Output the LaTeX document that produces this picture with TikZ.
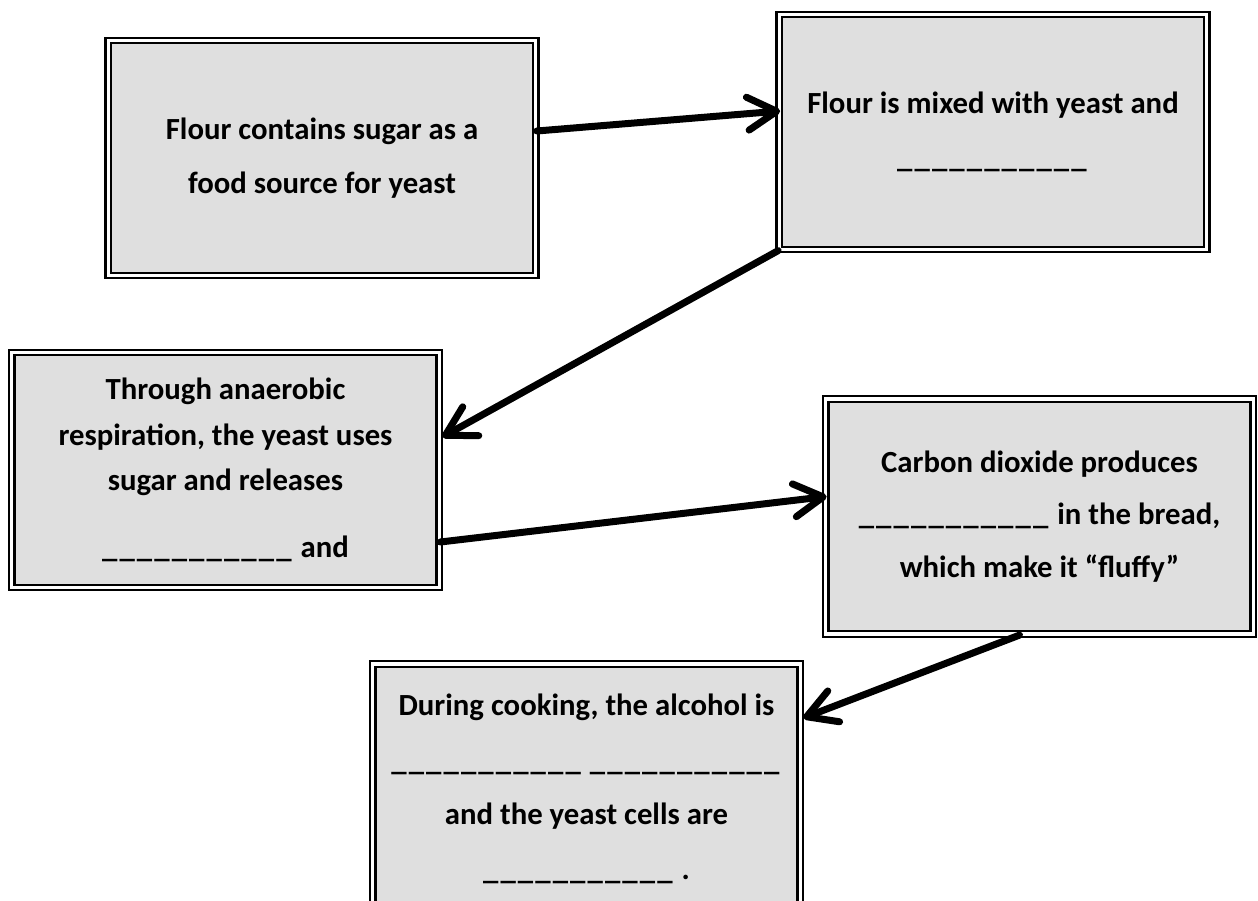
\documentclass[tikz,border=0pt]{standalone}
\usepackage{fontspec}
\setmainfont{Carlito}
\usepackage{tikz}
\usetikzlibrary{arrows.meta,calc}

\newcommand{\dash}{\_\kern1.2pt}
\newcommand{\blank}{\dash\dash\dash\dash\dash\dash\dash\dash\dash\dash\dash}

\begin{document}
\begin{tikzpicture}[x=0.02cm, y=-0.02cm,
boxnode/.style={rectangle, draw=black, line width=0.045cm, double=white, double distance=0.065cm,
fill=gray!25, minimum width=8.55cm, minimum height=4.7cm, align=center,
font=\bfseries\fontsize{17.5}{31}\selectfont},
arrowline/.style={line width=0.14cm, line cap=round,
-{Straight Barb[length=0.58cm, width=0.66cm, round]}}]
\useasboundingbox (0,0) rectangle (1258,900);
\clip (0,0) rectangle (1258,900);
%Nodes
\node[boxnode] (flour)   at (322,158)    {Flour contains sugar as a\\food source for yeast};
\node[boxnode] (mixed)   at (993,132)    {Flour is mixed with yeast and\\\blank};
\node[boxnode, font=\bfseries\fontsize{17.5}{26}\selectfont] (resp) at (225.5,470)
  {Through anaerobic\\respiration, the yeast uses\\sugar and releases\\[12pt]\blank{} and};
\node[boxnode, font=\bfseries\fontsize{17.5}{30}\selectfont] (carbon) at (1039.5,516.5)
  {Carbon dioxide produces\\\blank{} in the bread,\\which make it “fluffy”};
\node[boxnode, minimum height=5cm] (cook) at (586.5,789)
  {During cooking, the alcohol is\\\blank\ \blank\\and the yeast cells are\\\blank\ .};
%Lines
\draw[arrowline] ($(flour.east)+(0,-27)$) -- ($(mixed.west)+(2,-21)$);
\draw[arrowline] (mixed.south west) -- ($(resp.east)+(2,-33)$);
\draw[arrowline] ($(resp.east)+(0,72)$) -- ($(carbon.west)+(2,-20)$);
\draw[arrowline] ($(carbon.south)+(-20,0)$) -- ($(cook.east)+(2,-71)$);
\end{tikzpicture}
\end{document}
